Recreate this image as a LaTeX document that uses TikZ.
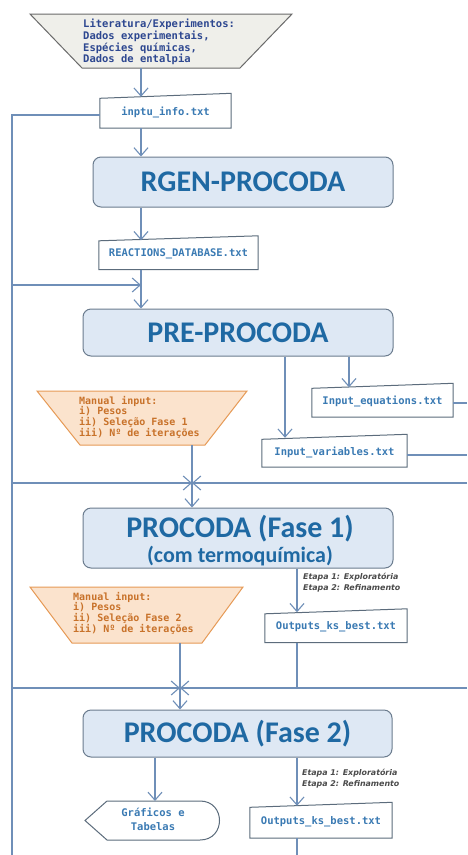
\documentclass[tikz,border=0pt]{standalone}
\usepackage{fontspec}
\usetikzlibrary{arrows.meta}
\newfontfamily\monof{DejaVu Sans Mono}
\newfontfamily\titlef{Carlito}
\newfontfamily\etapaf{DejaVu Sans}
\definecolor{linec}{HTML}{6F8FB8}
\definecolor{boxbd}{HTML}{6B7C8E}
\definecolor{boxfill}{HTML}{DEE8F4}
\definecolor{titlec}{HTML}{1F69A3}
\definecolor{filebd}{HTML}{5C6C7C}
\definecolor{filetxt}{HTML}{3A7AB3}
\definecolor{litfill}{HTML}{EFEFEA}
\definecolor{litbd}{HTML}{6A6A6A}
\definecolor{littxt}{HTML}{2D4790}
\definecolor{orfill}{HTML}{FBE3CD}
\definecolor{orbd}{HTML}{E69A56}
\definecolor{ortxt}{HTML}{C8722A}
\definecolor{etapac}{HTML}{4A4A4A}
\newcommand\filepoly[1]{\draw[filebd,line width=1pt,fill=white] (#1.south west) -- (#1.south east) -- ([yshift=2.5pt]#1.north east) -- ([yshift=-2.5pt]#1.north west) -- cycle;}
\begin{document}
\begin{tikzpicture}[x=1pt,y=-1pt,
  flow/.style={draw=linec, line width=1.1pt, -{Straight Barb[length=8pt,width=14pt,line width=1.1pt]}},
  plain/.style={draw=linec, line width=1.1pt},
  procbox/.style={rounded corners=8pt, draw=boxbd, fill=boxfill, line width=1pt, inner sep=0pt},
  titletext/.style={font=\titlef\bfseries\fontsize{30}{32}\selectfont, text=titlec, inner sep=0pt},
  subtext/.style={font=\titlef\bfseries\fontsize{22}{24}\selectfont, text=titlec, inner sep=0pt},
  filenode/.style={font=\monof\bfseries\fontsize{10.5}{12}\selectfont, text=filetxt, inner sep=0pt},
  littext/.style={font=\monof\bfseries\fontsize{10.5}{11.7}\selectfont, text=littxt, align=left, inner sep=0pt, anchor=north west},
  ortext/.style={font=\monof\bfseries\fontsize{10}{10.6}\selectfont, text=ortxt, align=left, inner sep=0pt, anchor=north west},
  etapa/.style={font=\etapaf\bfseries\itshape\fontsize{7.9}{11}\selectfont, text=etapac, align=left, inner sep=0pt, anchor=north west},
  gtext/.style={font=\monof\bfseries\fontsize{10.5}{14}\selectfont, text=filetxt, align=center, inner sep=0pt}]
\useasboundingbox (0,0) rectangle (467,855);
\fill[white] (0,0) rectangle (467,855);

% x reference coordinates
\coordinate (xl) at (12,0);
\coordinate (xr) at (467,0);
\coordinate (xa) at (141,0);
\coordinate (xb) at (285,0);
\coordinate (xc) at (349,0);
\coordinate (xd) at (192,0);
\coordinate (xe) at (297,0);
\coordinate (xf) at (180,0);
\coordinate (xg) at (155,0);

% top trapezoid (literature)
\draw[litbd, fill=litfill, line width=1pt] (30,14) -- (292,14) -- (240,68) -- (82,68) -- cycle;
\coordinate (litb) at (141,68);
\node[littext] (lit) at (83,19) {Literatura/Experimentos:\\Dados experimentais,\\Espécies químicas,\\Dados de entalpia};

% inptu_info
\node[filenode, minimum width=131pt, minimum height=32pt] (inptu) at (165.5,112) {};
\filepoly{inptu}
\node[filenode] (inptut) at (inptu) {inptu\_info.txt};

% RGEN
\node[procbox, minimum width=300pt, minimum height=50pt] (rgen) at (243,182) {};
\node[titletext] (rgent) at (rgen) {RGEN-PROCODA};

% REACTIONS
\node[filenode, minimum width=159pt, minimum height=31pt] (react) at (178.5,254) {};
\filepoly{react}
\node[filenode] (reactt) at (react) {REACTIONS\_DATABASE.txt};

% PRE-PROCODA
\node[procbox, minimum width=310pt, minimum height=47pt] (pre) at (238,332.5) {};
\node[titletext] (pret) at (pre) {PRE-PROCODA};

% Input files
\node[filenode, minimum width=141pt, minimum height=31pt] (ieq) at (382.5,401.5) {};
\filepoly{ieq}
\node[filenode] (ieqt) at (ieq) {Input\_equations.txt};
\node[filenode, minimum width=145pt, minimum height=30pt] (ivar) at (334.5,452) {};
\filepoly{ivar}
\node[filenode] (ivart) at (ivar) {Input\_variables.txt};

% orange manual input 1
\draw[orbd, fill=orfill, line width=1pt] (37,391) -- (247,391) -- (205,445) -- (80,445) -- cycle;
\coordinate (or1b) at (192,445);
\node[ortext] (or1) at (79,396) {Manual input:\\i) Pesos\\ii) Seleção Fase 1\\iii) Nº de iterações};

% PROCODA Fase 1
\node[procbox, minimum width=310pt, minimum height=60pt] (p1) at (238,538) {};
\node[titletext] (p1t) at (240,529) {PROCODA (Fase 1)};
\node[subtext] (p1s) at (240,556) {(com termoquímica)};
\node[etapa] (et1) at (303,573) {Etapa 1: Exploratória\\Etapa 2: Refinamento};

% Outputs 1
\node[filenode, minimum width=142pt, minimum height=31pt] (out1) at (336,627) {};
\filepoly{out1}
\node[filenode] (out1t) at (out1) {Outputs\_ks\_best.txt};

% orange manual input 2
\draw[orbd, fill=orfill, line width=1pt] (30,587) -- (243,587) -- (202,643) -- (72,643) -- cycle;
\coordinate (or2b) at (180,643);
\node[ortext] (or2) at (73,592) {Manual input:\\i) Pesos\\ii) Seleção Fase 2\\iii) Nº de iterações};

% PROCODA Fase 2
\node[procbox, minimum width=309pt, minimum height=47pt] (p2) at (237.5,733.5) {};
\node[titletext] (p2t) at (p2) {PROCODA (Fase 2)};
\node[etapa] (et2) at (302,769) {Etapa 1: Exploratória\\Etapa 2: Refinamento};

% Graficos display shape
\draw[filebd, fill=white, line width=1pt] (85,820.5) -- (107,801) -- (200,801) .. controls (226,801) and (226,840) .. (200,840) -- (107,840) -- cycle;
\node[gtext] (graf) at (153,819) {Gráficos e\\Tabelas};
\coordinate (grafn) at (155,801);

% Outputs 2
\node[filenode, minimum width=142pt, minimum height=33pt] (out2) at (321,821.5) {};
\filepoly{out2}
\node[filenode] (out2t) at (out2) {Outputs\_ks\_best.txt};

% junction / edge coordinates
\coordinate (j1) at (192,483);
\coordinate (j2) at (180,688);
\coordinate (lt) at (12,115);
\coordinate (lb) at (12,855);
\coordinate (l1) at (12,285);
\coordinate (m1) at (141,285);
\coordinate (l2) at (12,483);
\coordinate (r2) at (467,483);
\coordinate (l3) at (12,688);
\coordinate (r3) at (467,688);
\coordinate (req) at (467,403);
\coordinate (rvar) at (467,455);
\coordinate (o1j) at (297,688);
\coordinate (bot) at (297,855);

% connectors
\draw[flow] (litb) -- ([yshift=-1pt]inptu.north -| litb);
\draw[flow] (inptu.south -| xa) -- (rgen.north -| xa);
\draw[flow] (rgen.south -| xa) -- ([yshift=-2pt]react.north -| xa);
\draw[flow] (react.south -| xa) -- (pre.north -| xa);
\draw[plain] (inptu.west |- lt) -- (lt) -- (lb);
\draw[flow] (l1) -- (m1);
\draw[flow] (pre.south -| xc) -- ([yshift=-1.5pt]ieq.north -| xc);
\draw[flow] (pre.south -| xb) -- ([yshift=-1pt]ivar.north -| xb);
\draw[plain] (ieq.east |- req) -- (req);
\draw[plain] (ivar.east |- rvar) -- (rvar);
\draw[plain] (or1b) -- (j1);
\draw[flow] (l2) -- (j1);
\draw[flow] (r2) -- (j1);
\draw[flow] (j1) -- (p1.north -| xd);
\draw[flow] (p1.south -| xe) -- ([yshift=-1pt]out1.north -| xe);
\draw[plain] (out1.south -| xe) -- (o1j);
\draw[plain] (or2b) -- (j2);
\draw[flow] (l3) -- (j2);
\draw[flow] (r3) -- (j2);
\draw[flow] (j2) -- (p2.north -| xf);
\draw[flow] (p2.south -| xg) -- (grafn);
\draw[flow] (p2.south -| xe) -- ([yshift=-1pt]out2.north -| xe);
\draw[plain] (out2.south -| xe) -- (bot);
\end{tikzpicture}
\end{document}
